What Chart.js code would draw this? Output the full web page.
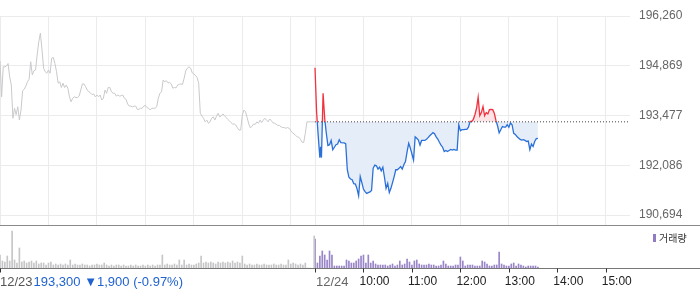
<!DOCTYPE html>
<html><head><meta charset="utf-8">
<script src="https://cdn.jsdelivr.net/npm/chart.js@4.4.1/dist/chart.umd.min.js"></script>
<style>html,body{margin:0;padding:0;background:#fff;overflow:hidden}canvas{display:block}</style>
</head><body>
<canvas id="price" width="700" height="225"></canvas>
<canvas id="vol" width="700" height="64"></canvas>
<script>
// ---------- data ----------
const prevDayLabel = '12/23';
const todayLabel = '12/24';
const prevClose = 193300;
const prevChangeText = '193,300 \u25BC1,900 (-0.97%)';
const volumeLabel = '거래량';
const yTickValues = [190694, 192086, 193477, 194869, 196260];
const hourLabels = ['10:00', '11:00', '12:00', '13:00', '14:00', '15:00'];

// 12/23 price, one value every 2 minutes from 09:00 (last = 15:30)
const prevDayPrice = [
  195000,194000,194840,194840,194860,194930,194560,194330,193400,193680,
  193500,193720,193350,193630,194170,194210,194300,194420,194490,194980,
  194610,194730,194750,195170,195540,195780,195310,194800,194700,194660,
  194750,194660,195080,195100,194930,194700,194380,194420,194260,194380,
  194260,194330,194240,194000,193860,193960,194000,193980,193980,194020,
  194190,194360,194360,194280,194190,194140,194110,194060,194080,194000,
  194050,194000,194050,193910,193960,194190,194100,194260,194260,194140,
  194100,194100,194020,194050,194020,194030,194050,193960,193930,193800,
  193740,193740,193720,193740,193740,193650,193650,193680,193680,193740,
  193760,193700,193680,193630,193680,193680,193680,193720,193960,194100,
  194140,194470,194420,194450,194390,194400,194360,194240,194260,194250,
  194330,194350,194360,194350,194520,194730,194800,194840,194800,194670,
  194640,194600,194540,194380,193540,193460,193400,193300,193350,193260,
  193300,193400,193440,193350,193460,193540,193440,193470,193520,193470,
  193420,193370,193330,193280,193240,193240,193210,193130,193070,193070,
  193490,193630,193580,193420,193240,193130,193180,193240,193230,193300,
  193260,193350,193280,193350,193400,193350,193300,193380,193330,193270,
  193260,193230,193200,193200,193160,193140,193140,193120,193140,193120,
  193050,193000,192960,192920,192880,192870,192810,192730,192720,192980,
  193300,193300,193300,193300,193300,193300
];

// 12/24 minutes since 09:00 and price
const todayMinute = [
  0,2,4,6,7,8,10,12,14,16,18,20,22,24,26,28,30,32,36,38,
  40,42,44,46,48,50,52,54,56,58,60,62,64,66,68,70,72,74,76,78,
  80,82,84,86,88,90,92,94,96,98,100,102,104,106,108,110,112,114,116,118,
  120,122,124,126,128,130,132,134,136,138,140,142,144,146,148,150,152,154,156,158,
  160,162,164,166,168,170,172,174,176,178,180,182,184,186,188,190,192,194,196,198,
  200,202,204,206,208,210,212,214,216,218,220,222,224,226,228,230,232,234,236,238,
  240,242,244,246,248,250,252,254,256,258,260,262,264,266,268,270,272,274,276
];
const todayPrice = [
  194810,193560,192900,192300,192600,192300,194100,193400,192980,192640,192660,192780,192520,192590,192660,192680,192800,192720,192710,192690,
  191960,191750,191700,191680,191570,191560,191430,191230,191770,191600,191420,191350,191300,191320,191340,191380,192000,192090,192070,191980,
  192030,191930,192030,191750,191440,191580,191320,191440,191600,191770,191960,191960,192000,192050,191980,192100,192190,192460,192700,192570,
  192400,192230,192880,192840,192790,192650,192780,192780,192780,192810,192860,192910,192950,193000,192970,192880,192820,192730,192650,192590,
  192470,192500,192470,192500,192530,192510,192530,192510,192510,193220,193050,193080,193080,193090,193090,193150,193310,193310,193370,193500,
  193680,193990,193470,193560,193730,193470,193560,193520,193640,193650,193640,193540,193340,193190,192990,193080,193170,193150,193150,193220,
  193150,193270,193220,192980,192950,192890,192850,192810,192790,192800,192780,192750,192760,192520,192680,192610,192750,192830,192840
];

// volume, one bar every 3 minutes
const prevDayVolume = [
  1300,700,600,1200,700,3700,800,500,2000,600,700,500,600,700,500,700,400,500,500,300,500,600,300,400,
  300,400,300,400,300,800,300,400,300,300,400,300,300,200,300,300,400,300,300,
  500,
  300,200,300,200,300,300,200,300,200,200,300,200,300,200,200,300,200,300,200,300,200,300,300,
  1300,300,400,300,300,400,300,800,300,800,300,400,300,300,400,500,1200,
  500,600,500,600,500,400,600,500,600,500,600,500,700,500,600,500,
  1200,
  400,300,400,300,300,400,300,300,400,300,300,300,400,300,300,400,300,300,
  800,400,500,400,300,400,300,500,0,0
];
const prevClosingAuctionVolume = 3200;
const todayVolume = [
  2900,500,1200,1700,1300,800,1700,1300,200,200,
  200,200,200,800,700,500,500,700,900,1200,
  1300,500,1300,500,700,400,300,300,300,300,
  200,300,400,200,300,700,300,400,900,600,
  300,700,800,400,300,300,300,400,300,300,
  200,200,300,700,400,200,200,200,300,300,
  1100,700,200,300,300,300,200,200,200,700,
  600,400,200,200,300,300,1600,400,300,200,
  200,400,500,200,400,300,200,100,200,200,
  200,200,100
];

// ---------- chart ----------
const SESSION = 390; // minutes per trading session (09:00-15:30)
const RED = '#f0323e', BLUE = '#2a70d8';
const gridMinutes = [0,60,120,180,240,300,360, SESSION, SESSION+60, SESSION+120, SESSION+180, SESSION+240, SESSION+300, SESSION+360];

function splitColor(ctx) {
  const chart = ctx.chart;
  const area = chart.chartArea;
  if (!area) return BLUE;
  const yb = chart.scales.y.getPixelForValue(prevClose);
  let f = (yb - area.top) / (area.bottom - area.top);
  f = Math.min(1, Math.max(0, f));
  const g = chart.ctx.createLinearGradient(0, area.top, 0, area.bottom);
  g.addColorStop(0, RED); g.addColorStop(f, RED);
  g.addColorStop(f, BLUE); g.addColorStop(1, BLUE);
  return g;
}

new Chart(document.getElementById('price'), {
  type: 'line',
  data: { datasets: [
    { label: 'prevClose', data: [{x: SESSION, y: prevClose}, {x: 2*SESSION, y: prevClose}],
      borderColor: '#444', borderWidth: 1, borderDash: [1, 2], pointRadius: 0, fill: false, order: 0 },
    { label: 'today', data: todayMinute.map((m, i) => ({x: SESSION + m, y: todayPrice[i]})),
      borderColor: splitColor, borderWidth: 1.3, pointRadius: 0,
      fill: { target: { value: prevClose }, above: '#fde2e6', below: '#e5edf9' }, order: 1 },
    { label: 'prev', data: prevDayPrice.map((p, i) => ({x: Math.min(i*2, SESSION), y: p})),
      borderColor: '#c9c9cd', borderWidth: 1, pointRadius: 0, fill: false, order: 2 }
  ]},
  options: {
    responsive: false, animation: false, devicePixelRatio: 1,
    layout: { padding: { top: 16, left: 0, right: 0, bottom: 0 } },
    plugins: { legend: { display: false }, tooltip: { enabled: false } },
    scales: {
      x: { type: 'linear', min: 0, max: 2*SESSION, offset: false,
        grid: { color: '#ebebeb', drawTicks: false }, border: { display: false },
        ticks: { display: false },
        afterBuildTicks: s => { s.ticks = gridMinutes.map(v => ({value: v})); },
        afterFit: s => { s.height = 0; s.paddingLeft = 0; s.paddingRight = 0; } },
      y: { position: 'right', min: 190415, max: 196260,
        grid: { color: '#ebebeb', drawTicks: false }, border: { display: false },
        ticks: { padding: 9, color: '#666', font: { family: 'Liberation Sans', size: 12 },
          callback: v => Number(v).toLocaleString('en-US') },
        afterBuildTicks: s => { s.ticks = yTickValues.map(v => ({value: v})); },
        afterFit: s => { s.width = 70; s.paddingTop = 0; s.paddingBottom = 0; } }
    }
  }
});

const axisPlugin = {
  id: 'axisPlugin',
  afterDraw(chart) {
    const c = chart.ctx, xs = chart.scales.x, area = chart.chartArea;
    c.save();
    c.strokeStyle = '#8a8a8a'; c.lineWidth = 1;
    c.beginPath(); c.moveTo(0, 0.5); c.lineTo(chart.width, 0.5); c.stroke();
    const by = Math.round(area.bottom) + 0.5;
    c.strokeStyle = '#777';
    c.beginPath(); c.moveTo(0, by); c.lineTo(chart.width, by); c.stroke();
    const tickVals = [0, SESSION].concat(hourLabels.map((_, k) => SESSION + 60*(k+1)));
    c.strokeStyle = '#333';
    tickVals.forEach(v => {
      const px = Math.round(xs.getPixelForValue(v)) + 0.5;
      c.beginPath(); c.moveTo(px, by); c.lineTo(px, by + 4); c.stroke();
    });
    const ly = 57;
    c.textBaseline = 'middle'; c.textAlign = 'left';
    c.font = '13px "Liberation Sans"';
    const x0 = xs.getPixelForValue(0);
    c.fillStyle = '#555'; c.fillText(prevDayLabel, x0, ly);
    const w = c.measureText(prevDayLabel).width;
    c.fillStyle = '#1f62d0'; c.fillText(prevChangeText, x0 + w + 1, ly);
    c.fillStyle = '#666'; c.fillText(todayLabel, xs.getPixelForValue(SESSION) + 1, ly);
    c.font = '12px "Liberation Sans"';
    c.fillStyle = '#222';
    hourLabels.forEach((lab, k) => {
      c.fillText(lab, xs.getPixelForValue(SESSION + 60*(k+1)) - 4, ly);
    });
    // legend
    c.fillStyle = '#8f7cc4';
    c.fillRect(653, 9, 3, 8);
    c.fillStyle = '#333';
    c.font = '10px "Noto Sans CJK KR"';
    c.fillText(volumeLabel, 659, 13.5);
    c.restore();
  }
};

new Chart(document.getElementById('vol'), {
  type: 'bar',
  data: { datasets: [
    { data: prevDayVolume.map((v, i) => ({x: i*3, y: v})).concat([{x: SESSION - 1, y: prevClosingAuctionVolume}]),
      backgroundColor: '#c6c6c8', barThickness: 1, grouped: false },
    { data: todayVolume.map((v, j) => ({x: SESSION + j*3, y: v})),
      backgroundColor: '#9985c8', barThickness: 1, grouped: false }
  ]},
  options: {
    responsive: false, animation: false, devicePixelRatio: 1,
    layout: { padding: { top: 1, left: 0, right: 70, bottom: 21 } },
    plugins: { legend: { display: false }, tooltip: { enabled: false } },
    scales: {
      x: { type: 'linear', min: 0, max: 2*SESSION, offset: false, display: false },
      y: { min: 0, max: 4200, display: false }
    }
  },
  plugins: [axisPlugin]
});
</script>
</body></html>
